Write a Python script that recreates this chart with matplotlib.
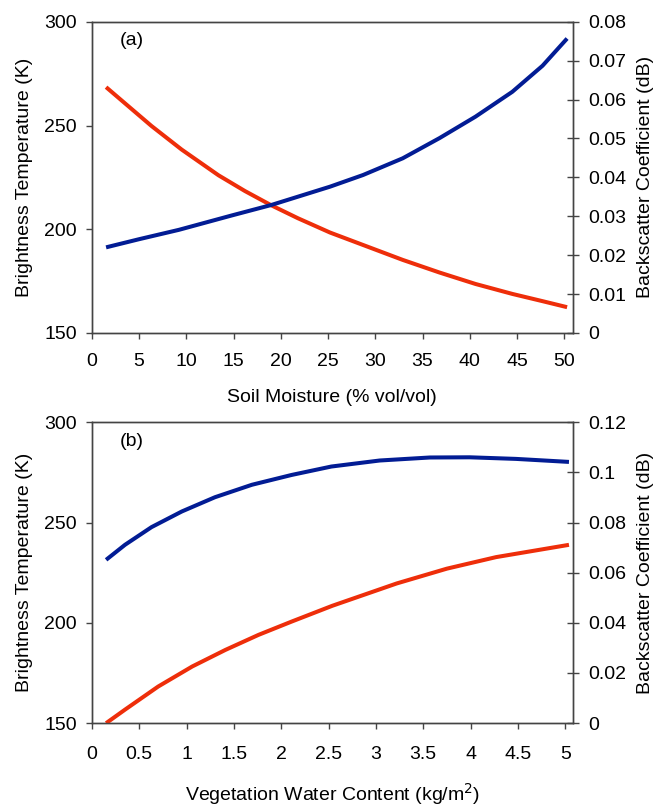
import matplotlib
matplotlib.use("Agg")
import matplotlib.pyplot as plt

plt.rcParams['font.family'] = ['Liberation Sans', 'DejaVu Sans']

# (a) soil moisture: brightness temperature (K) and backscatter
sm_tb = [1.5, 3.5, 6.3, 9.5, 13.4, 16.2, 19.0, 21.8, 25.2, 28.7, 32.9, 36.8, 40.6, 44.5, 47.7, 50.3]
tb_soil = [268.5, 260.7, 249.8, 238.4, 226.0, 218.4, 211.5, 205.3, 198.4, 192.4, 185.2, 179.1,
           173.6, 168.8, 165.3, 162.4]
sm_sig = [1.5, 5.0, 9.2, 14.8, 19.0, 25.2, 28.7, 32.9, 36.8, 40.6, 44.5, 47.7, 50.3]
sigma_soil = [0.0220, 0.0241, 0.0265, 0.0302, 0.0329, 0.0376, 0.0406, 0.0449, 0.0501, 0.0556,
              0.0620, 0.0687, 0.0757]

# (b) vegetation water content
vwc_tb = [0.15, 0.35, 0.63, 0.95, 1.30, 1.69, 2.11, 2.53, 3.04, 3.57, 3.99, 4.48, 5.04]
tb_veg = [231.4, 238.9, 247.7, 255.5, 262.6, 268.8, 273.7, 277.9, 280.9, 282.4, 282.5, 281.7, 280.2]
vwc_sig = [0.15, 0.35, 0.70, 1.06, 1.41, 1.76, 2.11, 2.54, 3.22, 3.75, 4.27, 5.04]
sigma_veg = [0.0, 0.0054, 0.0146, 0.0226, 0.0292, 0.0352, 0.0405, 0.0468, 0.0557,
             0.0616, 0.0662, 0.0711]

red = '#EE2E0A'
blue = '#021C94'
fs = 14
lw = 2.9

fig = plt.figure(figsize=(6.66, 8.08), dpi=100)
ax1 = fig.add_axes([0.138, 0.588, 0.722, 0.385])
ax2 = fig.add_axes([0.138, 0.105, 0.722, 0.3725])


def style(ax, axr, xpad):
    for a in (ax, axr):
        for s in a.spines.values():
            s.set_color('#444444')
            s.set_linewidth(1.0)
    ax.tick_params(axis='x', direction='out', length=4.3, width=1,
                   color='#444444', labelsize=fs, pad=xpad)
    ax.tick_params(axis='y', direction='out', length=4.3, width=1,
                   color='#444444', labelsize=fs, pad=6.5)
    axr.tick_params(axis='y', direction='inout', length=8.6, width=1,
                    color='#444444', labelsize=fs, pad=6.5)
    ax.set_ylabel('Brightness Temperature (K)', fontsize=fs, labelpad=8)
    axr.set_ylabel('Backscatter Coefficient (dB)', fontsize=fs, labelpad=8)


# panel a
ax1r = ax1.twinx()
ax1.plot(sm_tb, tb_soil, color=red, lw=lw, solid_capstyle='butt')
ax1r.plot(sm_sig, sigma_soil, color=blue, lw=lw, solid_capstyle='butt')
ax1.set_xlim(0, 50.9)
ax1.set_ylim(150, 300)
ax1r.set_ylim(0, 0.08)
ax1.set_xticks(range(0, 51, 5))
ax1.set_yticks([150, 200, 250, 300])
ax1r.set_yticks([0, 0.01, 0.02, 0.03, 0.04, 0.05, 0.06, 0.07, 0.08])
ax1r.set_yticklabels(['0', '0.01', '0.02', '0.03', '0.04', '0.05', '0.06', '0.07', '0.08'])
ax1.set_xlabel('Soil Moisture (% vol/vol)', fontsize=fs, labelpad=13)
ax1.text(0.058, 0.925, '(a)', transform=ax1.transAxes, fontsize=fs)
style(ax1, ax1r, 10.5)

# panel b
ax2r = ax2.twinx()
ax2.plot(vwc_tb, tb_veg, color=blue, lw=lw, solid_capstyle='butt')
ax2r.plot(vwc_sig, sigma_veg, color=red, lw=lw, solid_capstyle='butt')
ax2.set_xlim(0, 5.08)
ax2.set_ylim(150, 300)
ax2r.set_ylim(0, 0.12)
ax2.set_xticks([0, 0.5, 1, 1.5, 2, 2.5, 3, 3.5, 4, 4.5, 5])
ax2.set_xticklabels(['0', '0.5', '1', '1.5', '2', '2.5', '3', '3.5', '4', '4.5', '5'])
ax2.set_yticks([150, 200, 250, 300])
ax2r.set_yticks([0, 0.02, 0.04, 0.06, 0.08, 0.1, 0.12])
ax2r.set_yticklabels(['0', '0.02', '0.04', '0.06', '0.08', '0.1', '0.12'])
ax2.set_xlabel('Vegetation Water Content (kg/m$^2$)', fontsize=fs, labelpad=13)
ax2.text(0.058, 0.92, '(b)', transform=ax2.transAxes, fontsize=fs)
style(ax2, ax2r, 12)

fig.savefig('out.png', dpi=100)
